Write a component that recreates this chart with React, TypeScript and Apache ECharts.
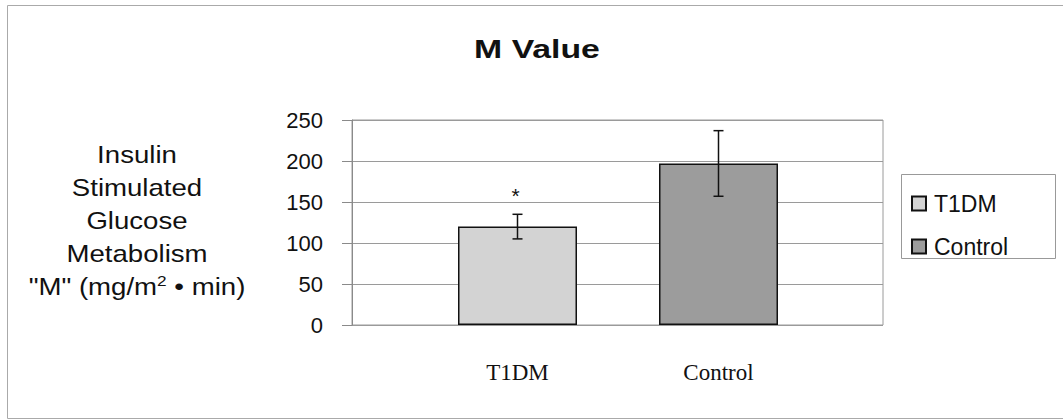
import React, { useEffect, useRef } from "react";
import * as echarts from "echarts";

const categories = ["T1DM", "Control"];
const meanValues = [120, 197];
const errorLow = [105, 157];
const errorHigh = [135, 237];
const significance = ["*", ""];
const yTicks = { min: 0, max: 250, interval: 50 };
const barColors = ["#d3d3d3", "#9c9c9c"];
const titleText = "M Value";
const yTitleLines = ["Insulin", "Stimulated", "Glucose", "Metabolism", "\"M\" (mg/m{sup|2} • min)"];

const SANS = "'Liberation Sans', Arial, sans-serif";
const SERIF = "'Liberation Serif', 'Times New Roman', serif";

export default function App() {
  const ref = useRef<HTMLDivElement>(null);
  useEffect(() => {
    if (!ref.current) return;
    const chart = echarts.init(ref.current, null, { renderer: "svg" });
    const barSeries = categories.map((name, i) => ({
      name,
      type: "bar",
      xAxisIndex: 1,
      yAxisIndex: 1,
      barWidth: 119,
      barGap: "-100%",
      data: categories.map((_, j) => (j === i ? meanValues[i] : null)),
      itemStyle: { color: barColors[i], borderColor: "#111", borderWidth: 1.5 },
      z: 3,
    }));
    const errData = categories.map((_, i) => [i, errorLow[i], errorHigh[i], significance[i]]);
    chart.setOption({
      animation: false,
      backgroundColor: "#fff",
      legend: {
        orient: "vertical",
        left: 906,
        top: 187,
        itemGap: 20,
        itemWidth: 14,
        itemHeight: 14,
        icon: "rect",
        textStyle: { fontFamily: SANS, fontSize: 23, color: "#111", padding: [0, 0, 0, 3] },
        data: categories,
      },
      grid: [
        { left: 352, right: 180, top: 120, bottom: 95, show: true, borderColor: "#9a9a9a", borderWidth: 1, backgroundColor: "transparent" },
        { left: 417, width: 402, top: 120, bottom: 95 },
      ],
      xAxis: [
        { type: "category", gridIndex: 0, data: categories, show: false },
        {
          type: "category",
          gridIndex: 1,
          data: categories,
          axisLine: { show: false },
          axisTick: { show: false },
          axisLabel: { fontFamily: SERIF, fontSize: 23, color: "#111", margin: 36 },
        },
      ],
      yAxis: [
        {
          type: "value",
          gridIndex: 0,
          min: yTicks.min,
          max: yTicks.max,
          interval: yTicks.interval,
          axisLine: { show: true, lineStyle: { color: "#8a8a8a" } },
          axisTick: { show: true, inside: false, length: 10, lineStyle: { color: "#8a8a8a" } },
          splitLine: { show: true, lineStyle: { color: "#9a9a9a", width: 1 } },
          axisLabel: { fontFamily: SANS, fontSize: 22, color: "#111", margin: 29 },
        },
        { type: "value", gridIndex: 1, min: yTicks.min, max: yTicks.max, interval: yTicks.interval, show: false },
      ],
      series: [
        ...barSeries,
        {
          type: "custom",
          xAxisIndex: 1,
          yAxisIndex: 1,
          z: 5,
          data: errData,
          renderItem: (params: any, api: any) => {
            const x = api.value(0);
            const lo = api.coord([x, api.value(1)]);
            const hi = api.coord([x, api.value(2)]);
            const mark = errData[params.dataIndex][3] as string;
            const cap = 5;
            const st = { stroke: "#111", lineWidth: 1.5 };
            const children: any[] = [
              { type: "line", shape: { x1: hi[0], y1: hi[1], x2: lo[0], y2: lo[1] }, style: st },
              { type: "line", shape: { x1: hi[0] - cap, y1: hi[1], x2: hi[0] + cap, y2: hi[1] }, style: st },
              { type: "line", shape: { x1: lo[0] - cap, y1: lo[1], x2: lo[0] + cap, y2: lo[1] }, style: st },
            ];
            if (mark) {
              children.push({
                type: "text",
                style: {
                  text: mark,
                  x: hi[0] - 2,
                  y: hi[1] - 19,
                  align: "center",
                  verticalAlign: "middle",
                  fontFamily: SANS,
                  fontSize: 21,
                  fill: "#111",
                },
              });
            }
            return { type: "group", children };
          },
        },
      ],
      graphic: [
        {
          type: "rect",
          shape: { x: 7.5, y: 5.5, width: 1070, height: 413 },
          style: { fill: "none", stroke: "#aaa", lineWidth: 1 },
          silent: true,
        },
        {
          type: "rect",
          shape: { x: 901.5, y: 174.5, width: 154, height: 84 },
          style: { fill: "none", stroke: "#999", lineWidth: 1 },
          silent: true,
        },
        {
          type: "text",
          x: 537,
          y: 49,
          scaleX: 1.3,
          style: {
            text: titleText,
            align: "center",
            verticalAlign: "middle",
            fontFamily: SANS,
            fontSize: 26,
            fontWeight: "bold",
            fill: "#111",
          },
        },
        {
          type: "text",
          x: 137,
          y: 221,
          scaleX: 1.15,
          style: {
            text: yTitleLines.join("\n"),
            align: "center",
            verticalAlign: "middle",
            fontFamily: SANS,
            fontSize: 24,
            lineHeight: 33,
            fill: "#111",
            rich: {
              sup: { fontFamily: SANS, fontSize: 15, lineHeight: 33, padding: [0, 0, 13, 0], fill: "#111" },
            },
          },
        },
      ],
    });
    return () => chart.dispose();
  }, []);
  return (
    <div
      ref={ref}
      style={{ position: "fixed", left: 0, top: 0, width: 1063, height: 420, background: "#fff" }}
    />
  );
}
